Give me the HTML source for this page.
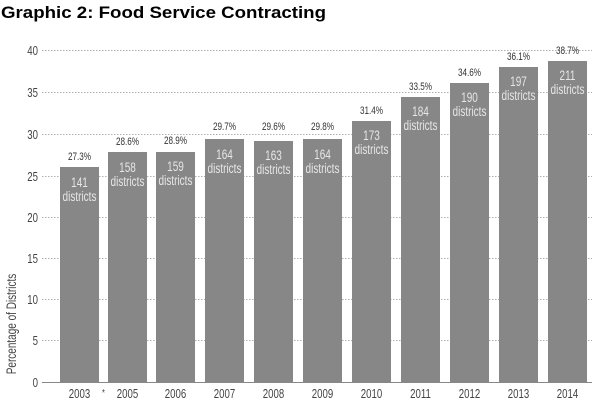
<!DOCTYPE html>
<html><head><meta charset="utf-8"><style>
html,body{margin:0;padding:0;background:#fff;width:600px;height:400px;overflow:hidden}
svg{display:block}
.t{font-family:"Liberation Sans",Arial,sans-serif;font-weight:bold;font-size:17px;fill:#000}
.n{font-family:"Liberation Sans",sans-serif}
</style></head><body>
<svg width="600" height="400" viewBox="0 0 600 400">
<text class="t" x="1" y="18" textLength="325" lengthAdjust="spacingAndGlyphs">Graphic 2: Food Service Contracting</text>
<g stroke="#b0b0b0" stroke-width="1" stroke-dasharray="1.5,1.5">
<line x1="42" x2="592" y1="50.5" y2="50.5"/>
<line x1="42" x2="592" y1="92.5" y2="92.5"/>
<line x1="42" x2="592" y1="134.5" y2="134.5"/>
<line x1="42" x2="592" y1="176.5" y2="176.5"/>
<line x1="42" x2="592" y1="217.5" y2="217.5"/>
<line x1="42" x2="592" y1="258.5" y2="258.5"/>
<line x1="42" x2="592" y1="299.5" y2="299.5"/>
<line x1="42" x2="592" y1="340.5" y2="340.5"/>
</g>
<line x1="42" x2="592" y1="382.5" y2="382.5" stroke="#888" stroke-width="1"/>
<g class="n c" font-size="13" fill="#444" text-anchor="end">
<text x="38" y="55">40</text><text x="38" y="97">35</text><text x="38" y="139">30</text>
<text x="38" y="181">25</text><text x="38" y="222">20</text><text x="38" y="263">15</text>
<text x="38" y="304">10</text><text x="38" y="345">5</text><text x="38" y="387">0</text>
</g>
<text class="n c" font-size="13.5" fill="#444" text-anchor="middle" transform="translate(16,324) rotate(-90)">Percentage of Districts</text>
<g fill="#878787">
<rect x="60" y="167" width="39" height="215"/>
<rect x="108" y="152" width="39" height="230"/>
<rect x="156" y="152" width="39" height="230"/>
<rect x="205" y="139" width="39" height="243"/>
<rect x="254" y="141" width="39" height="241"/>
<rect x="303" y="139" width="39" height="243"/>
<rect x="352" y="121" width="39" height="261"/>
<rect x="401" y="97" width="39" height="285"/>
<rect x="450" y="83" width="39" height="299"/>
<rect x="499" y="67" width="39" height="315"/>
<rect x="548" y="61" width="39" height="321"/>
</g>
<g class="n c" font-size="11" fill="#333" text-anchor="middle">
<text x="79.5" y="160">27.3%</text><text x="127.5" y="145">28.6%</text><text x="175.5" y="144">28.9%</text>
<text x="224.5" y="130">29.7%</text><text x="273.5" y="130">29.6%</text><text x="322.5" y="130">29.8%</text>
<text x="371.5" y="114">31.4%</text><text x="420.5" y="90">33.5%</text><text x="469.5" y="76">34.6%</text>
<text x="518.5" y="60">36.1%</text><text x="567.5" y="54">38.7%</text>
</g>
<g class="n c" font-size="13.5" fill="#e6e6e6" text-anchor="middle">
<text x="79.5" y="187">141</text><text x="79.5" y="201">districts</text>
<text x="127.5" y="172">158</text><text x="127.5" y="186">districts</text>
<text x="175.5" y="171">159</text><text x="175.5" y="185">districts</text>
<text x="224.5" y="159">164</text><text x="224.5" y="173">districts</text>
<text x="273.5" y="160">163</text><text x="273.5" y="174">districts</text>
<text x="322.5" y="159">164</text><text x="322.5" y="173">districts</text>
<text x="371.5" y="140">173</text><text x="371.5" y="154">districts</text>
<text x="420.5" y="116">184</text><text x="420.5" y="130">districts</text>
<text x="469.5" y="102">190</text><text x="469.5" y="116">districts</text>
<text x="518.5" y="86">197</text><text x="518.5" y="100">districts</text>
<text x="567.5" y="80">211</text><text x="567.5" y="94">districts</text>
</g>
<g class="n c" font-size="13" fill="#444" text-anchor="middle">
<text x="79.5" y="398">2003</text><text x="103.5" y="396" font-size="10">*</text><text x="127.5" y="398">2005</text><text x="175.5" y="398">2006</text>
<text x="224.5" y="398">2007</text><text x="273.5" y="398">2008</text><text x="322.5" y="398">2009</text>
<text x="371.5" y="398">2010</text><text x="420.5" y="398">2011</text><text x="469.5" y="398">2012</text>
<text x="518.5" y="398">2013</text><text x="567.5" y="398">2014</text>
</g>
</svg>
<script>
document.querySelectorAll('g.c text, text.c').forEach(function(t){
  var l=t.getComputedTextLength();
  t.setAttribute('textLength',(l*0.74).toFixed(1));
  t.setAttribute('lengthAdjust','spacingAndGlyphs');
});
</script>
</body></html>
